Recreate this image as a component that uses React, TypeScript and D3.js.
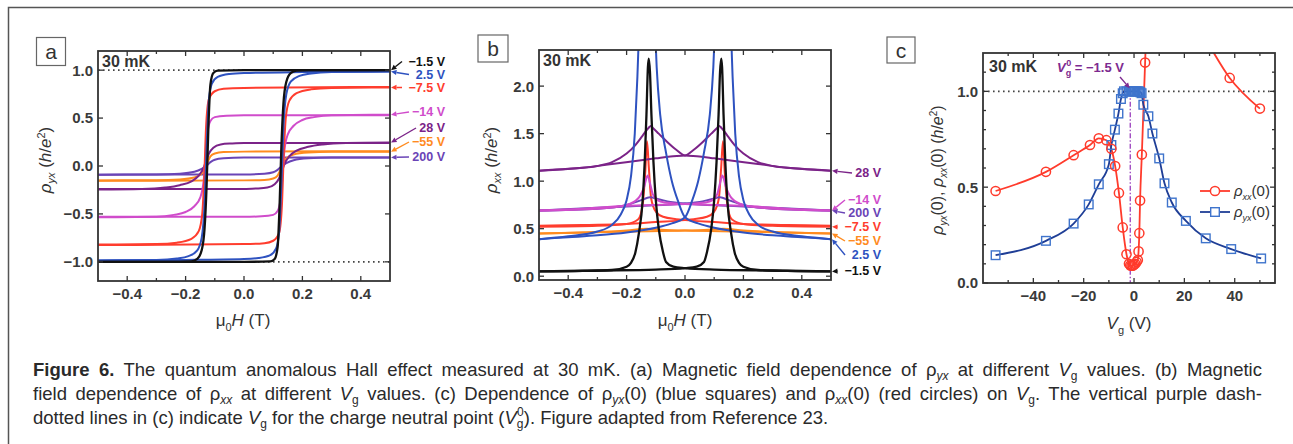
import * as d3 from 'd3';
import { useRef, useLayoutEffect } from 'react';

type Pt = [number, number];

const FONT = "'Liberation Sans', Arial, Helvetica, sans-serif";

// ---------- panel a: rho_yx vs mu0H, one loop per gate voltage ----------
const gatesA = ['−1.5 V', '2.5 V', '−7.5 V', '−14 V', '28 V', '−55 V', '200 V'];

// sweep from -0.5 T up to +0.5 T (lower branch)
const ryxSweepUp: Pt[][] = [
  [[-0.5, -1], [0, -1], [0.09, -0.995], [0.105, -0.97], [0.115, -0.85], [0.122, -0.4], [0.128, 0.2], [0.135, 0.65], [0.145, 0.88], [0.16, 0.97], [0.18, 0.995], [0.22, 1], [0.5, 1]],
  [[-0.5, -0.985], [-0.2, -0.98], [0, -0.97], [0.05, -0.96], [0.09, -0.93], [0.11, -0.86], [0.12, -0.7], [0.128, -0.2], [0.135, 0.4], [0.145, 0.75], [0.16, 0.88], [0.19, 0.94], [0.23, 0.965], [0.3, 0.98], [0.5, 0.985]],
  [[-0.5, -0.825], [0, -0.815], [0.07, -0.805], [0.1, -0.78], [0.12, -0.7], [0.13, -0.4], [0.136, 0.1], [0.143, 0.5], [0.155, 0.68], [0.18, 0.76], [0.23, 0.8], [0.3, 0.815], [0.5, 0.82]],
  [[-0.5, -0.53], [0, -0.53], [0.06, -0.525], [0.1, -0.51], [0.115, -0.47], [0.125, -0.35], [0.132, -0.1], [0.138, 0.15], [0.15, 0.33], [0.17, 0.42], [0.2, 0.48], [0.24, 0.51], [0.3, 0.53], [0.5, 0.535]],
  [[-0.5, -0.24], [0, -0.24], [0.04, -0.235], [0.08, -0.225], [0.105, -0.19], [0.12, -0.13], [0.13, -0.05], [0.14, 0.03], [0.155, 0.1], [0.18, 0.16], [0.22, 0.2], [0.27, 0.225], [0.35, 0.24], [0.5, 0.245]],
  [[-0.5, -0.155], [0, -0.15], [0.07, -0.145], [0.1, -0.13], [0.115, -0.1], [0.125, -0.04], [0.135, 0.03], [0.145, 0.08], [0.17, 0.12], [0.22, 0.14], [0.3, 0.148], [0.5, 0.15]],
  [[-0.5, -0.09], [0, -0.088], [0.07, -0.08], [0.1, -0.065], [0.115, -0.04], [0.13, 0], [0.145, 0.03], [0.17, 0.06], [0.22, 0.08], [0.3, 0.088], [0.5, 0.09]],
];

// sweep from +0.5 T down to -0.5 T (upper branch), listed in ascending field
const ryxSweepDown: Pt[][] = [
  [[-0.5, -1], [-0.22, -1], [-0.18, -0.995], [-0.16, -0.97], [-0.145, -0.88], [-0.135, -0.65], [-0.128, -0.2], [-0.122, 0.4], [-0.115, 0.85], [-0.105, 0.97], [-0.09, 0.995], [0, 1], [0.5, 1]],
  [[-0.5, -0.985], [-0.3, -0.98], [-0.23, -0.965], [-0.19, -0.94], [-0.16, -0.88], [-0.145, -0.75], [-0.135, -0.4], [-0.128, 0.2], [-0.12, 0.7], [-0.11, 0.86], [-0.09, 0.93], [-0.05, 0.96], [0, 0.97], [0.2, 0.98], [0.5, 0.985]],
  [[-0.5, -0.82], [-0.3, -0.815], [-0.23, -0.8], [-0.18, -0.76], [-0.155, -0.68], [-0.143, -0.5], [-0.136, -0.1], [-0.13, 0.4], [-0.12, 0.7], [-0.1, 0.78], [-0.07, 0.805], [0, 0.815], [0.5, 0.825]],
  [[-0.5, -0.535], [-0.3, -0.53], [-0.24, -0.51], [-0.2, -0.48], [-0.17, -0.42], [-0.15, -0.33], [-0.138, -0.15], [-0.132, 0.1], [-0.125, 0.35], [-0.115, 0.47], [-0.1, 0.51], [-0.06, 0.525], [0, 0.53], [0.5, 0.53]],
  [[-0.5, -0.245], [-0.35, -0.24], [-0.27, -0.225], [-0.22, -0.2], [-0.18, -0.16], [-0.155, -0.1], [-0.14, -0.03], [-0.13, 0.05], [-0.12, 0.13], [-0.105, 0.19], [-0.08, 0.225], [-0.04, 0.235], [0, 0.24], [0.5, 0.24]],
  [[-0.5, -0.15], [-0.3, -0.148], [-0.22, -0.14], [-0.17, -0.12], [-0.145, -0.08], [-0.135, -0.03], [-0.125, 0.04], [-0.115, 0.1], [-0.1, 0.13], [-0.07, 0.145], [0, 0.15], [0.5, 0.155]],
  [[-0.5, -0.09], [-0.3, -0.088], [-0.22, -0.08], [-0.17, -0.06], [-0.145, -0.03], [-0.13, 0], [-0.115, 0.04], [-0.1, 0.065], [-0.07, 0.08], [0, 0.088], [0.5, 0.09]],
];

// ---------- panel b: rho_xx vs mu0H ----------
const gatesB = ['28 V', '−14 V', '200 V', '−7.5 V', '−55 V', '2.5 V', '−1.5 V'];

// branch with its peak at negative field
const rxxSweepDown: Pt[][] = [
  [[-0.5, 1.11], [-0.4, 1.13], [-0.3, 1.16], [-0.25, 1.2], [-0.2, 1.29], [-0.17, 1.38], [-0.145, 1.48], [-0.125, 1.56], [-0.117, 1.58], [-0.11, 1.56], [-0.09, 1.5], [-0.06, 1.41], [-0.03, 1.33], [0, 1.27], [0.05, 1.26], [0.1, 1.24], [0.15, 1.22], [0.25, 1.18], [0.35, 1.14], [0.5, 1.11]],
  [[-0.5, 0.69], [-0.3, 0.71], [-0.2, 0.75], [-0.16, 0.82], [-0.14, 0.94], [-0.128, 1.06], [-0.12, 0.98], [-0.11, 0.86], [-0.095, 0.8], [-0.07, 0.775], [0, 0.76], [0.2, 0.74], [0.35, 0.71], [0.5, 0.69]],
  [[-0.5, 0.69], [-0.3, 0.71], [-0.2, 0.75], [-0.15, 0.8], [-0.12, 0.83], [-0.09, 0.81], [-0.05, 0.78], [0, 0.765], [0.15, 0.74], [0.3, 0.72], [0.5, 0.69]],
  [[-0.5, 0.52], [-0.3, 0.53], [-0.2, 0.55], [-0.16, 0.6], [-0.145, 0.75], [-0.136, 1.1], [-0.13, 1.42], [-0.124, 1.15], [-0.116, 0.82], [-0.1, 0.68], [-0.075, 0.625], [-0.03, 0.6], [0, 0.59], [0.1, 0.57], [0.2, 0.55], [0.35, 0.54], [0.5, 0.53]],
  [[-0.5, 0.45], [-0.35, 0.46], [-0.2, 0.48], [-0.13, 0.5], [-0.08, 0.49], [0, 0.48], [0.2, 0.47], [0.35, 0.46], [0.5, 0.45]],
  [[-0.5, 0.39], [-0.4, 0.42], [-0.3, 0.47], [-0.25, 0.54], [-0.22, 0.65], [-0.2, 0.8], [-0.185, 1.05], [-0.172, 1.5], [-0.163, 2.1], [-0.155, 2.8], [-0.13, 4.5], [-0.105, 2.8], [-0.097, 2.2], [-0.085, 1.7], [-0.065, 1.3], [-0.045, 1.0], [-0.025, 0.8], [0, 0.62], [0.05, 0.55], [0.1, 0.51], [0.2, 0.46], [0.3, 0.43], [0.4, 0.41], [0.5, 0.39]],
  [[-0.5, 0.05], [-0.35, 0.055], [-0.25, 0.065], [-0.2, 0.1], [-0.185, 0.14], [-0.17, 0.25], [-0.158, 0.45], [-0.145, 0.8], [-0.138, 1.2], [-0.132, 1.7], [-0.127, 2.2], [-0.124, 2.29], [-0.12, 2.15], [-0.115, 1.7], [-0.108, 1.2], [-0.1, 0.8], [-0.09, 0.5], [-0.075, 0.25], [-0.065, 0.15], [-0.04, 0.1], [0, 0.085], [0.1, 0.07], [0.3, 0.06], [0.5, 0.05]],
];

// branch with its peak at positive field
const rxxSweepUp: Pt[][] = [
  [[-0.5, 1.11], [-0.35, 1.14], [-0.25, 1.18], [-0.15, 1.22], [-0.1, 1.24], [-0.05, 1.26], [0, 1.27], [0.03, 1.33], [0.06, 1.41], [0.09, 1.5], [0.11, 1.56], [0.117, 1.58], [0.125, 1.56], [0.145, 1.48], [0.17, 1.38], [0.2, 1.29], [0.25, 1.2], [0.3, 1.16], [0.4, 1.13], [0.5, 1.11]],
  [[-0.5, 0.69], [-0.35, 0.71], [-0.2, 0.74], [0, 0.76], [0.07, 0.775], [0.095, 0.8], [0.11, 0.86], [0.12, 0.98], [0.128, 1.06], [0.14, 0.94], [0.16, 0.82], [0.2, 0.75], [0.3, 0.71], [0.5, 0.69]],
  [[-0.5, 0.69], [-0.3, 0.72], [-0.15, 0.74], [0, 0.765], [0.05, 0.78], [0.09, 0.81], [0.12, 0.83], [0.15, 0.8], [0.2, 0.75], [0.3, 0.71], [0.5, 0.69]],
  [[-0.5, 0.53], [-0.35, 0.54], [-0.2, 0.55], [-0.1, 0.57], [0, 0.59], [0.03, 0.6], [0.075, 0.625], [0.1, 0.68], [0.116, 0.82], [0.124, 1.15], [0.13, 1.42], [0.136, 1.1], [0.145, 0.75], [0.16, 0.6], [0.2, 0.55], [0.3, 0.53], [0.5, 0.52]],
  [[-0.5, 0.45], [-0.35, 0.46], [-0.2, 0.47], [0, 0.48], [0.08, 0.49], [0.13, 0.5], [0.2, 0.48], [0.35, 0.46], [0.5, 0.45]],
  [[-0.5, 0.39], [-0.4, 0.41], [-0.3, 0.43], [-0.2, 0.46], [-0.1, 0.51], [-0.05, 0.55], [0, 0.62], [0.025, 0.8], [0.045, 1.0], [0.065, 1.3], [0.085, 1.7], [0.097, 2.2], [0.105, 2.8], [0.13, 4.5], [0.155, 2.8], [0.163, 2.1], [0.172, 1.5], [0.185, 1.05], [0.2, 0.8], [0.22, 0.65], [0.25, 0.54], [0.3, 0.47], [0.4, 0.42], [0.5, 0.39]],
  [[-0.5, 0.05], [-0.3, 0.06], [-0.1, 0.07], [0, 0.085], [0.04, 0.1], [0.065, 0.15], [0.075, 0.25], [0.09, 0.5], [0.1, 0.8], [0.108, 1.2], [0.115, 1.7], [0.12, 2.15], [0.124, 2.29], [0.127, 2.2], [0.132, 1.7], [0.138, 1.2], [0.145, 0.8], [0.158, 0.45], [0.17, 0.25], [0.185, 0.14], [0.2, 0.1], [0.25, 0.065], [0.35, 0.055], [0.5, 0.05]],
];

// ---------- panel c: zero-field values vs gate voltage ----------
const vgRxx = [-55, -35, -24, -17.5, -14, -11, -9, -7.5, -6, -4.5, -3, -2, -1.5, -1, -0.5, 0, 0.5, 1, 1.5, 1.8, 2.1, 2.4, 3.1, 4.4, 6, 28, 38, 50];
const rxx0 = [0.48, 0.58, 0.667, 0.72, 0.755, 0.745, 0.7, 0.61, 0.47, 0.29, 0.15, 0.1, 0.092, 0.09, 0.09, 0.095, 0.1, 0.11, 0.12, 0.165, 0.26, 0.43, 0.67, 1.15, 1.7, 1.28, 1.07, 0.91];

const vgRyx = [-55, -35, -24, -18, -14, -10, -9, -7.6, -6.2, -5.2, -4.5, -4, -3, -2, -1.5, -1, -0.5, 0, 0.5, 1, 1.5, 2, 2.5, 3, 3.7, 5.7, 7.3, 10, 12.1, 15, 20.6, 28.5, 38.6, 50.5];
const ryx0 = [0.145, 0.22, 0.31, 0.41, 0.515, 0.62, 0.72, 0.8, 0.884, 0.96, 0.99, 1, 1, 1, 1, 1, 1, 1, 1, 1, 1, 1, 0.995, 0.99, 0.93, 0.87, 0.78, 0.65, 0.52, 0.42, 0.324, 0.233, 0.177, 0.128];

const neutralVg = -1.5;

// colours per gate voltage
const gateColor: Record<string, string> = {
  '−1.5 V': '#111111',
  '2.5 V': '#2e52c0',
  '−7.5 V': '#ff3d2e',
  '−14 V': '#d04ccb',
  '28 V': '#7b2388',
  '−55 V': '#ff8b1f',
  '200 V': '#6a44b6',
};

const AXIS = '#333';

function Arrow({ x1, y1, x2, y2, color }: { x1: number; y1: number; x2: number; y2: number; color: string }) {
  const a = Math.atan2(y2 - y1, x2 - x1);
  const L = 5.5, W = 2.6;
  const bx = x2 - L * Math.cos(a), by = y2 - L * Math.sin(a);
  const pts = [
    [x2, y2],
    [bx + W * Math.sin(a), by - W * Math.cos(a)],
    [bx - W * Math.sin(a), by + W * Math.cos(a)],
  ].map(p => p.join(',')).join(' ');
  return (
    <g>
      <line x1={x1} y1={y1} x2={bx} y2={by} stroke={color} strokeWidth={1.4} />
      <polygon points={pts} fill={color} />
    </g>
  );
}

// frame with inward ticks on all four sides
function Frame({ x, y, xMajor, xMinor, yMajor, yMinor, xFmt, yFmt }: any) {
  const [x0, x1] = x.range();
  const [yb, yt] = y.range();
  const tick = (k: string, x1_: number, y1_: number, x2_: number, y2_: number) => (
    <line key={k} x1={x1_} y1={y1_} x2={x2_} y2={y2_} stroke={AXIS} strokeWidth={1.3} />
  );
  return (
    <g>
      {xMinor.map((v: number) => (
        <g key={'xm' + v}>
          {tick('a', x(v), yb, x(v), yb - 3)}
          {tick('b', x(v), yt, x(v), yt + 3)}
        </g>
      ))}
      {xMajor.map((v: number) => (
        <g key={'xM' + v}>
          {tick('a', x(v), yb, x(v), yb - 5)}
          {tick('b', x(v), yt, x(v), yt + 5)}
          <text x={x(v)} y={yb + 18} textAnchor="middle" fontSize={15} fontWeight="bold" fill="#3a3a3a">{xFmt(v)}</text>
        </g>
      ))}
      {yMinor.map((v: number) => (
        <g key={'ym' + v}>
          {tick('a', x0, y(v), x0 + 3, y(v))}
          {tick('b', x1, y(v), x1 - 3, y(v))}
        </g>
      ))}
      {yMajor.map((v: number) => (
        <g key={'yM' + v}>
          {tick('a', x0, y(v), x0 + 5, y(v))}
          {tick('b', x1, y(v), x1 - 5, y(v))}
          <text x={x0 - 5} y={y(v)} dy="0.36em" textAnchor="end" fontSize={15} fontWeight="bold" fill="#3a3a3a">{yFmt(v)}</text>
        </g>
      ))}
      <rect x={x0} y={yt} width={x1 - x0} height={yb - yt} fill="none" stroke={AXIS} strokeWidth={1.8} />
    </g>
  );
}

function PanelLetter({ x, y, w, h, t }: { x: number; y: number; w: number; h: number; t: string }) {
  return (
    <g>
      <rect x={x} y={y} width={w} height={h} fill="#fff" stroke="#666" strokeWidth={1.2} />
      <text x={x + w / 2} y={y + h / 2} dy="0.36em" textAnchor="middle" fontSize={21} fill="#333">{t}</text>
    </g>
  );
}

function FieldLabel({ cx, y }: { cx: number; y: number }) {
  return (
    <text x={cx} y={y} textAnchor="middle" fontSize={17} fill="#333">
      μ<tspan dy={5} fontSize={11}>0</tspan><tspan dy={-5} fontStyle="italic">H</tspan> (T)
    </text>
  );
}

const fmt1 = d3.format('.1f');
const fmt0 = d3.format('d');

function PanelA() {
  const x = d3.scaleLinear().domain([-0.5, 0.5]).range([98, 390]);
  const y = d3.scaleLinear().domain([-1.2, 1.2]).range([281, 51]);
  const line = d3.line<Pt>().x(d => x(d[0])).y(d => y(d[1])).curve(d3.curveMonotoneX);
  const labelY = [61.5, 74.5, 87.5, 112, 128, 142, 157];
  const order = gatesA.map((_, i) => i).reverse();
  return (
    <g>
      <clipPath id="clipA"><rect x={98} y={51} width={292} height={230} /></clipPath>
      <line x1={x(-0.5)} x2={x(0.5)} y1={y(1)} y2={y(1)} stroke="#444" strokeWidth={1.6} strokeDasharray="1.6 3.4" />
      <line x1={x(-0.5)} x2={x(0.5)} y1={y(-1)} y2={y(-1)} stroke="#444" strokeWidth={1.6} strokeDasharray="1.6 3.4" />
      <g clipPath="url(#clipA)" fill="none">
        {order.map(i => (
          <g key={i} stroke={gateColor[gatesA[i]]} strokeWidth={i === 0 ? 2.3 : 2}>
            <path d={line(ryxSweepUp[i]) || ''} />
            <path d={line(ryxSweepDown[i]) || ''} />
          </g>
        ))}
      </g>
      <Frame x={x} y={y} xMajor={[-0.4, -0.2, 0, 0.2, 0.4]} xMinor={[-0.3, -0.1, 0.1, 0.3]}
        yMajor={[-1, -0.5, 0, 0.5, 1]} yMinor={[]} xFmt={fmt1} yFmt={fmt1} />
      <text x={102} y={67} fontSize={16} fontWeight="bold" fill="#333">30 mK</text>
      {gatesA.map((g, i) => {
        const last = ryxSweepUp[i][ryxSweepUp[i].length - 1][1];
        const tx = 445 - g.length * 7;
        return (
          <g key={g}>
            <Arrow x1={tx - 1} y1={labelY[i]} x2={391} y2={y(last)} color={gateColor[g]} />
            <text x={445} y={labelY[i]} dy="0.35em" textAnchor="end" fontSize={12.5} fontWeight="bold" fill={gateColor[g]}>{g}</text>
          </g>
        );
      })}
      <FieldLabel cx={243} y={326} />
      <text transform="translate(51,160) rotate(-90)" textAnchor="middle" fontSize={17} fill="#333">
        <tspan fontStyle="italic">ρ</tspan><tspan dy={4} fontSize={11} fontStyle="italic">yx</tspan><tspan dy={-4}> (</tspan><tspan fontStyle="italic">h</tspan>/<tspan fontStyle="italic">e</tspan><tspan dy={-6} fontSize={11}>2</tspan><tspan dy={6}>)</tspan>
      </text>
      <PanelLetter x={36.5} y={37.5} w={29} h={28} t="a" />
    </g>
  );
}

function PanelB() {
  const x = d3.scaleLinear().domain([-0.5, 0.5]).range([539, 831]);
  const y = d3.scaleLinear().domain([-0.04, 2.38]).range([280, 50]);
  const line = d3.line<Pt>().x(d => x(d[0])).y(d => y(d[1])).curve(d3.curveMonotoneX);
  const labelY = [173, 200, 213, 227, 241, 255, 271];
  const order = [4, 3, 2, 1, 0, 5, 6];
  return (
    <g>
      <clipPath id="clipB"><rect x={539} y={50} width={292} height={230} /></clipPath>
      <g clipPath="url(#clipB)" fill="none">
        {order.map(i => (
          <g key={i} stroke={gateColor[gatesB[i]]} strokeWidth={i === 6 ? 2.3 : 2}>
            <path d={line(rxxSweepDown[i]) || ''} />
            <path d={line(rxxSweepUp[i]) || ''} />
          </g>
        ))}
      </g>
      <Frame x={x} y={y} xMajor={[-0.4, -0.2, 0, 0.2, 0.4]} xMinor={[-0.3, -0.1, 0.1, 0.3]}
        yMajor={[0, 0.5, 1, 1.5, 2]} yMinor={[]} xFmt={fmt1} yFmt={fmt1} />
      <text x={543} y={66} fontSize={16} fontWeight="bold" fill="#333">30 mK</text>
      {gatesB.map((g, i) => {
        const last = rxxSweepUp[i][rxxSweepUp[i].length - 1][1];
        const tx = 881 - g.length * 7;
        return (
          <g key={g}>
            <Arrow x1={tx - 1} y1={labelY[i]} x2={832} y2={y(last)} color={gateColor[g]} />
            <text x={881} y={labelY[i]} dy="0.35em" textAnchor="end" fontSize={12.5} fontWeight="bold" fill={gateColor[g]}>{g}</text>
          </g>
        );
      })}
      <FieldLabel cx={685} y={326} />
      <text transform="translate(497,160) rotate(-90)" textAnchor="middle" fontSize={17} fill="#333">
        <tspan fontStyle="italic">ρ</tspan><tspan dy={4} fontSize={11} fontStyle="italic">xx</tspan><tspan dy={-4}> (</tspan><tspan fontStyle="italic">h</tspan>/<tspan fontStyle="italic">e</tspan><tspan dy={-6} fontSize={11}>2</tspan><tspan dy={6}>)</tspan>
      </text>
      <PanelLetter x={478} y={35} w={30} h={27} t="b" />
    </g>
  );
}

function PanelC() {
  const x = d3.scaleLinear().domain([-60, 56]).range([983, 1275]);
  const y = d3.scaleLinear().domain([0, 1.2]).range([283, 53]);
  const line = d3.line<number>().curve(d3.curveMonotoneX);
  const rxxPts: Pt[] = vgRxx.map((v, i) => [x(v), y(rxx0[i])]);
  const ryxPts: Pt[] = vgRyx.map((v, i) => [x(v), y(ryx0[i])]);
  const red = '#ff3b2c', navy = '#1f3e96', sq = '#3f74cc', purple = '#9a3fbe';
  const xn = x(neutralVg);
  return (
    <g>
      <clipPath id="clipC"><rect x={983} y={53} width={292} height={230} /></clipPath>
      <line x1={983} x2={1275} y1={y(1)} y2={y(1)} stroke="#444" strokeWidth={1.6} strokeDasharray="1.6 3.4" />
      <line x1={xn} x2={xn} y1={y(1)} y2={y(0)} stroke={purple} strokeWidth={1.3} strokeDasharray="5 2 1.5 2" />
      <g clipPath="url(#clipC)">
        <path d={(line as any)(rxxPts)} fill="none" stroke={red} strokeWidth={1.8} />
        <path d={(line as any)(ryxPts)} fill="none" stroke={navy} strokeWidth={1.8} />
        {ryxPts.map((p, i) => (
          <rect key={'s' + i} x={p[0] - 4.3} y={p[1] - 4.3} width={8.6} height={8.6} fill="none" stroke={sq} strokeWidth={1.4} />
        ))}
        {rxxPts.map((p, i) => (
          <circle key={'c' + i} cx={p[0]} cy={p[1]} r={4.6} fill="none" stroke={red} strokeWidth={1.5} />
        ))}
      </g>
      <Frame x={x} y={y} xMajor={[-40, -20, 0, 20, 40]} xMinor={[-50, -30, -10, 10, 30, 50]}
        yMajor={[0, 0.5, 1]} yMinor={[0.1, 0.2, 0.3, 0.4, 0.6, 0.7, 0.8, 0.9, 1.1]} xFmt={fmt0} yFmt={fmt1} />
      <text x={989} y={72} fontSize={16} fontWeight="bold" fill="#333">30 mK</text>
      <text x={1057} y={72} fontSize={13} fontWeight="bold" fill="#7d2a90">
        <tspan fontStyle="italic">V</tspan><tspan dy={4} fontSize={9}>g</tspan><tspan dx={-5} dy={-10} fontSize={9}>0</tspan><tspan dy={6}> = −1.5 V</tspan>
      </text>
      <Arrow x1={1120} y1={77} x2={xn - 0.5} y2={y(1) - 3} color="#7d2a90" />
      {/* legend */}
      <line x1={1200} x2={1230} y1={191} y2={191} stroke={red} strokeWidth={1.8} />
      <circle cx={1215} cy={191} r={4.6} fill="#fff" stroke={red} strokeWidth={1.5} />
      <text x={1234} y={191} dy="0.36em" fontSize={15} fill="#333">
        <tspan fontStyle="italic">ρ</tspan><tspan dy={4} fontSize={9} fontStyle="italic">xx</tspan><tspan dy={-4}>(0)</tspan>
      </text>
      <line x1={1200} x2={1230} y1={212} y2={212} stroke={navy} strokeWidth={1.8} />
      <rect x={1215 - 4.3} y={212 - 4.3} width={8.6} height={8.6} fill="#fff" stroke={sq} strokeWidth={1.4} />
      <text x={1234} y={212} dy="0.36em" fontSize={15} fill="#333">
        <tspan fontStyle="italic">ρ</tspan><tspan dy={4} fontSize={9} fontStyle="italic">yx</tspan><tspan dy={-4}>(0)</tspan>
      </text>
      <text x={1129} y={329} textAnchor="middle" fontSize={17} fill="#333">
        <tspan fontStyle="italic">V</tspan><tspan dy={5} fontSize={11}>g</tspan><tspan dy={-5}> (V)</tspan>
      </text>
      <text transform="translate(943,170) rotate(-90)" textAnchor="middle" fontSize={16} fill="#333">
        <tspan fontStyle="italic">ρ</tspan><tspan dy={4} fontSize={10} fontStyle="italic">yx</tspan><tspan dy={-4}>(0), </tspan><tspan fontStyle="italic">ρ</tspan><tspan dy={4} fontSize={10} fontStyle="italic">xx</tspan><tspan dy={-4}>(0) (</tspan><tspan fontStyle="italic">h</tspan>/<tspan fontStyle="italic">e</tspan><tspan dy={-6} fontSize={10}>2</tspan><tspan dy={6}>)</tspan>
      </text>
      <PanelLetter x={887} y={37} w={28} h={26} t="c" />
    </g>
  );
}

// justified caption line: stretch word gaps so the line fills the width
function JustLine({ x, y, width, children }: any) {
  const ref = useRef<SVGTextElement>(null);
  useLayoutEffect(() => {
    const el = ref.current;
    if (!el) return;
    el.setAttribute('word-spacing', '0');
    const w = el.getComputedTextLength();
    const gaps = ((el.textContent || '').trim().match(/\s+/g) || []).length;
    if (gaps > 0 && w < width) el.setAttribute('word-spacing', String((width - w) / gaps));
  }, [width]);
  return <text ref={ref} x={x} y={y}>{children}</text>;
}

function Caption() {
  const sub = (t: string, italic = true) => (
    <tspan dy={4} fontSize={12} fontStyle={italic ? 'italic' : 'normal'}>{t}</tspan>
  );
  return (
    <g fontSize={18.5} fill="#2a2a2a">
      <JustLine x={33} y={376} width={1229}>
        <tspan fontWeight="bold">Figure 6.</tspan>
        <tspan>{' The quantum anomalous Hall effect measured at 30 mK. (a) Magnetic field dependence of ρ'}</tspan>
        {sub('yx')}
        <tspan dy={-4}>{' at different '}</tspan>
        <tspan fontStyle="italic">V</tspan>
        {sub('g', false)}
        <tspan dy={-4}>{' values. (b) Magnetic'}</tspan>
      </JustLine>
      <JustLine x={33} y={400} width={1229}>
        <tspan>field dependence of ρ</tspan>
        {sub('xx')}
        <tspan dy={-4}>{' at different '}</tspan>
        <tspan fontStyle="italic">V</tspan>
        {sub('g', false)}
        <tspan dy={-4}>{' values. (c) Dependence of ρ'}</tspan>
        {sub('yx')}
        <tspan dy={-4}>{'(0) (blue squares) and ρ'}</tspan>
        {sub('xx')}
        <tspan dy={-4}>{'(0) (red circles) on '}</tspan>
        <tspan fontStyle="italic">V</tspan>
        {sub('g', false)}
        <tspan dy={-4}>{'. The vertical purple dash-'}</tspan>
      </JustLine>
      <text x={33} y={424}>
        <tspan>dotted lines in (c) indicate </tspan>
        <tspan fontStyle="italic">V</tspan>
        {sub('g', false)}
        <tspan dy={-4}>{' for the charge neutral point ('}</tspan>
        <tspan fontStyle="italic">V</tspan>
        <tspan dy={4} fontSize={12}>g</tspan>
        <tspan dx={-6.5} dy={-12} fontSize={12}>0</tspan>
        <tspan dy={8}>{'). Figure adapted from Reference 23.'}</tspan>
      </text>
    </g>
  );
}

export default function App() {
  return (
    <svg width={1293} height={444} style={{ position: 'absolute', left: 0, top: 0, background: '#fff' }}
      fontFamily={FONT}>
      <rect width={1293} height={444} fill="#fff" />
      <path d="M8.5,444 V7.5 H1293" fill="none" stroke="#555" strokeWidth={1.5} />
      <PanelA />
      <PanelB />
      <PanelC />
      <Caption />
    </svg>
  );
}
